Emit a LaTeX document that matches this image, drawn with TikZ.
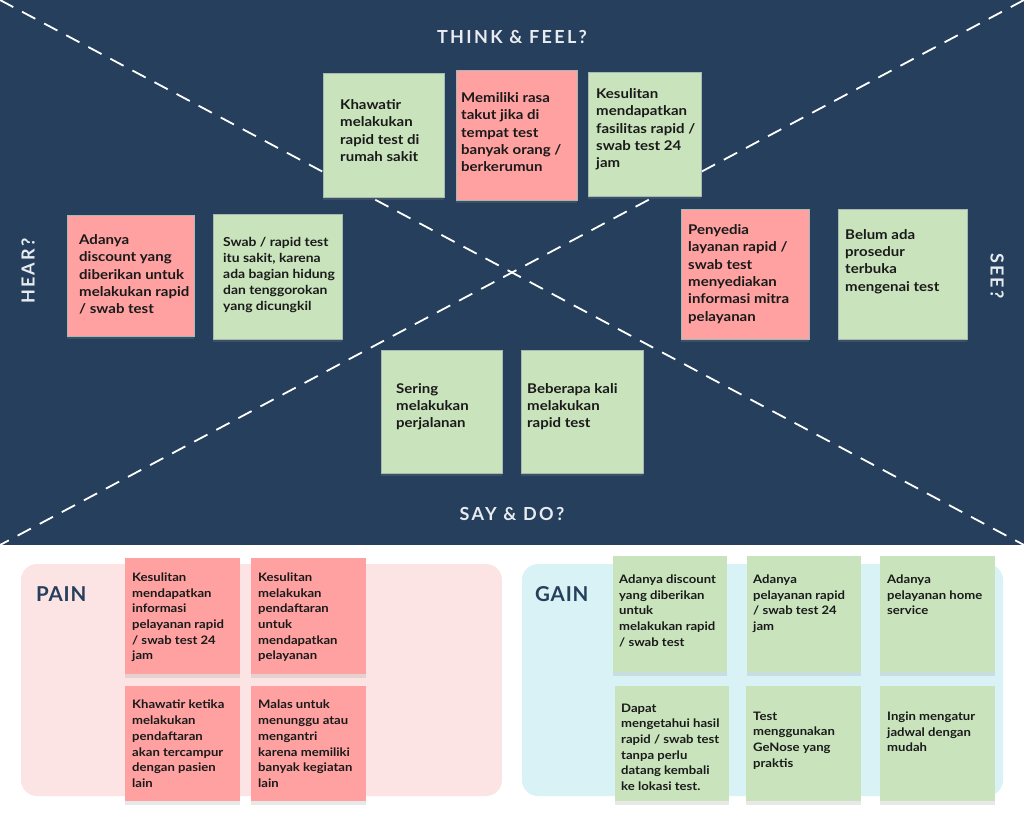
\documentclass[tikz,border=0pt]{standalone}
\usepackage{fontspec}
\setmainfont{Lato}[FakeStretch=1.12]
\newfontfamily\titlefont[LetterSpace=13]{Lato}
\newfontfamily\panelfont[LetterSpace=4]{Lato}
\usetikzlibrary{shadows}
\definecolor{bgdark}{HTML}{253F5C}
\definecolor{notegreen}{HTML}{C9E4BC}
\definecolor{notepink}{HTML}{FFA1A1}
\definecolor{painbg}{HTML}{FDE4E4}
\definecolor{gainbg}{HTML}{D8F2F6}
\definecolor{titlecol}{HTML}{E8ECF0}
\definecolor{inkcol}{HTML}{1A1A1A}
\definecolor{edgecol}{HTML}{6E8A80}
\begin{document}
\begin{tikzpicture}[x=1pt,y=-1pt,
  sheet/.style={draw=edgecol!60, line width=0.6pt, inner sep=0pt, outer sep=0pt,
    drop shadow={opacity=0.25, shadow xshift=0pt, shadow yshift=-2.5pt}},
  green/.style={sheet, fill=notegreen},
  pink/.style={sheet, fill=notepink},
  lownote/.style={inner sep=0pt, outer sep=0pt,
    drop shadow={opacity=0.18, shadow xshift=0pt, shadow yshift=-4pt}},
  lgreen/.style={lownote, fill=notegreen},
  lpink/.style={lownote, fill=notepink},
  txt/.style={anchor=north west, inner sep=0pt, align=left, text=inkcol,
    font=\fontsize{13.4}{17.3}\selectfont\bfseries},
  stxt/.style={txt, font=\fontsize{12.4}{16}\selectfont\bfseries},
  ltxt/.style={txt, font=\fontsize{11.7}{15.7}\selectfont\bfseries},
  quadtitle/.style={text=titlecol, inner sep=0pt, font=\fontsize{18}{20}\titlefont\bfseries},
  paneltitle/.style={anchor=north west, inner sep=0pt, text=bgdark, font=\fontsize{20.5}{24}\panelfont\bfseries},
  divider/.style={draw=white, line width=1.8pt, dash pattern=on 15pt off 10pt}
]
\useasboundingbox (0,0) rectangle (1024,814);
\fill[white] (0,0) rectangle (1024,814);
\fill[bgdark] (0,0) rectangle (1024,545);

% diagonals
\coordinate (tl) at (0,0);
\coordinate (tr) at (1024,0);
\coordinate (bl) at (0,545);
\coordinate (br) at (1024,545);
\draw[divider] (tl) -- (br);
\draw[divider] (tr) -- (bl);

% quadrant titles
\node[quadtitle] (think) at (512,37) {THINK \& FEEL?};
\node[quadtitle] (say) at (512,514) {SAY \& DO?};
\node[quadtitle, rotate=90] (hear) at (28,271) {HEAR?};
\node[quadtitle, rotate=-90] (see) at (997,276) {SEE?};

% top notes
\path[green] (323,73) rectangle (444,197);
\node[txt] (n1) at (340,99.5) {Khawatir\\melakukan\\rapid test di\\rumah sakit};

\path[pink] (456,70) rectangle (577,200);
\node[txt] (n2) at (461,92.5) {Memiliki rasa\\takut jika di\\tempat test\\banyak orang /\\berkerumun};

\path[green] (588,72) rectangle (701,196);
\node[txt] (n3) at (596,88.5) {Kesulitan\\mendapatkan\\fasilitas rapid /\\swab test 24\\jam};

\path[pink] (67,215) rectangle (194,336);
\node[txt] (n4) at (79,234.5) {Adanya\\discount yang\\diberikan untuk\\melakukan rapid\\/ swab test};

\path[green] (213,214) rectangle (342,339);
\node[stxt] (n5) at (223,237) {Swab / rapid test\\itu sakit, karena\\ada bagian hidung\\dan tenggorokan\\yang dicungkil};

\path[pink] (681,209) rectangle (809,339);
\node[txt] (n6) at (688,224.5) {Penyedia\\layanan rapid /\\swab test\\menyediakan\\informasi mitra\\pelayanan};

\path[green] (838,209) rectangle (967,339);
\node[txt] (n7) at (845,229) {Belum ada\\prosedur\\terbuka\\mengenai test};

\path[green] (381,350) rectangle (502,473);
\node[txt] (n8) at (396,383) {Sering\\melakukan\\perjalanan};

\path[green] (521,350) rectangle (643,473);
\node[txt] (n9) at (527,383) {Beberapa kali\\melakukan\\rapid test};

% panels
\fill[painbg, rounded corners=16pt] (21,564) rectangle (502,796);
\fill[gainbg, rounded corners=16pt] (522,564) rectangle (1003,796);
\node[paneltitle] (pain) at (36,586) {PAIN};
\node[paneltitle] (gain) at (535,586) {GAIN};

% pain notes
\path[lpink] (125,558) rectangle (240,674);
\node[ltxt] (p1) at (132,572.5) {Kesulitan\\mendapatkan\\informasi\\pelayanan rapid\\/ swab test 24\\jam};
\path[lpink] (251,558) rectangle (366,674);
\node[ltxt] (p2) at (258,572.5) {Kesulitan\\melakukan\\pendaftaran\\untuk\\mendapatkan\\pelayanan};
\path[lpink] (125,686) rectangle (240,801);
\node[ltxt] (p3) at (132,700) {Khawatir ketika\\melakukan\\pendaftaran\\akan tercampur\\dengan pasien\\lain};
\path[lpink] (251,686) rectangle (366,801);
\node[ltxt] (p4) at (258,700) {Malas untuk\\menunggu atau\\mengantri\\karena memiliki\\banyak kegiatan\\lain};

% gain notes
\path[lgreen] (613,556) rectangle (727,672);
\node[ltxt] (g1) at (619,574.5) {Adanya discount\\yang diberikan\\untuk\\melakukan rapid\\/ swab test};
\path[lgreen] (747,556) rectangle (861,672);
\node[ltxt] (g2) at (753,574.5) {Adanya\\pelayanan rapid\\/ swab test 24\\jam};
\path[lgreen] (880,556) rectangle (995,672);
\node[ltxt] (g3) at (887,574.5) {Adanya\\pelayanan home\\service};
\path[lgreen] (615,686) rectangle (729,801);
\node[ltxt] (g4) at (621,703.5) {Dapat\\mengetahui hasil\\rapid / swab test\\tanpa perlu\\datang kembali\\ke lokasi test.};
\path[lgreen] (746,686) rectangle (861,801);
\node[ltxt] (g5) at (753,711.5) {Test\\menggunakan\\GeNose yang\\praktis};
\path[lgreen] (880,686) rectangle (995,801);
\node[ltxt] (g6) at (887,711.5) {Ingin mengatur\\jadwal dengan\\mudah};
\end{tikzpicture}
\end{document}
